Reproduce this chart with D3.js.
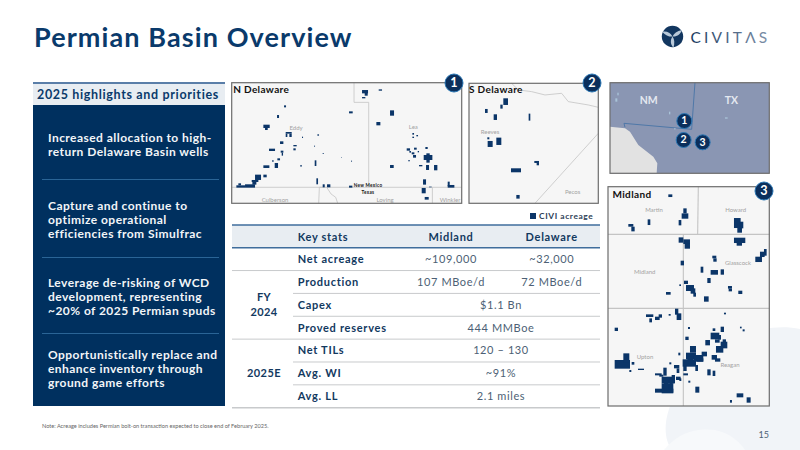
<!DOCTYPE html>
<html>
<head>
<meta charset="utf-8">
<script src="https://cdn.jsdelivr.net/npm/d3@7"></script>
<style>
  html, body { margin: 0; padding: 0; background: #fff; }
  svg { display: block; }
  text { font-family: Lato, "Open Sans", sans-serif; }
</style>
</head>
<body>
<svg id="slide" width="800" height="450"></svg>
<script>
// Left panel
const panelTitle = "2025 highlights and priorities";
const highlights = [
    ["Increased allocation to high-", "return Delaware Basin wells"],
    ["Capture and continue to", "optimize operational", "efficiencies from Simulfrac"],
    ["Leverage de-risking of WCD", "development, representing", "~20% of 2025 Permian spuds"],
    ["Opportunistically replace and", "enhance inventory through", "ground game efforts"]
];

// Table
const tableHead = ["Key stats", "Midland", "Delaware"];
const rowLabels = ["Net acreage", "Production", "Capex", "Proved reserves", "Net TILs", "Avg. WI", "Avg. LL"];
const midlandValues = ["~109,000", "107 MBoe/d", "$1.1 Bn", "444 MMBoe", "120 \u2013 130", "~91%", "2.1 miles"];
const delawareValues = ["~32,000", "72 MBoe/d", null, null, null, null, null];
const rowGroups = [
    { lines: ["FY", "2024"], from: 1, to: 3 },
    { lines: ["2025E"], from: 4, to: 6 }
];

// Acreage blocks: [x, y, w, h] in map units
const nDelawareBlocks = [
    [411,60,18,10],[419,68,9,9],[411,81,10,4],[461,58,10,4],[495,121,12,16],[372,124,11,6],[454,156,12,10],
    [177,106,6,6],[156,135,6,9],[115,164,19,10],[120,172,8,8],[182,186,18,5],[182,191,5,10],[193,191,7,10],
    [165,214,10,8],[205,225,10,4],[205,235,7,6],[132,236,18,7],[167,242,8,6],[170,248,4,9],[277,193,5,4],
    [231,200,3,4],[267,227,3,3],[293,249,3,3],[348,261,2,2],[378,272,3,3],[269,271,5,17],[226,285,4,5],
    [157,265,8,6],[141,271,5,4],[149,279,10,15],[115,286,18,8],[115,314,10,8],[90,314,18,16],[80,330,20,6],
    [82,336,12,8],[60,343,30,10],[40,340,8,6],[34,346,26,7],[274,325,5,18],[293,343,6,9],[306,343,10,9],
    [372,347,10,6],[495,285,11,9],[562,189,5,5],[574,195,5,4],[562,200,5,4],[545,235,10,7],[553,243,5,5],
    [560,247,8,6],[567,233,8,6],[564,255,9,8],[578,243,4,4],[550,270,4,4],[601,231,7,6],[596,255,26,15],
    [604,250,10,28],[582,285,10,4],[603,285,9,15],[627,285,10,16],[594,328,9,16],[590,354,12,16],[599,381,12,8],
    [668,335,6,14],[668,345,20,8],[612,350,8,2]
];
const sDelawareBlocks = [
    [835,85,14,20],[826,104,7,12],[780,117,8,12],[806,133,10,17],[911,131,5,21],[787,202,6,6],[788,213,15,18],
    [814,203,15,22],[928,273,14,6],[935,278,7,8],[858,295,30,12],[874,375,10,11]
];
const midlandBlocks = [
    [205,43,12,8],[250,85,10,15],[245,100,20,16],[236,120,8,16],[143,118,8,17],[85,132,15,8],[94,140,10,14],
    [402,114,20,30],[412,130,14,28],[420,125,10,20],[402,173,34,16],[410,185,16,12],[236,172,14,16],[250,178,20,14],
    [254,190,16,16],[242,242,10,14],[466,230,20,16],[480,215,14,16],[492,207,8,20],[337,227,12,8],[340,235,10,10],
    [302,260,8,18],[332,270,22,14],[362,268,10,16],[322,294,10,15],[252,302,12,10],[238,313,5,5],[258,315,24,18],
    [272,325,14,16],[280,338,8,12],[198,336,14,8],[384,318,12,8],[386,326,10,8],[415,332,12,10],[312,349,14,16],
    [225,386,10,18],[230,400,14,20],[138,403,22,8],[148,415,8,12],[165,410,14,10],[176,403,10,10],[206,402,6,5],
    [372,398,6,5],[44,443,10,10],[264,441,6,6],[420,440,5,5],[428,448,6,6],[362,440,10,16],[338,445,8,8],
    [332,458,26,20],[345,478,14,10],[316,480,14,16],[256,470,10,10],[362,485,20,20],[348,498,22,20],[335,525,16,14],
    [345,535,16,10],[235,518,6,8],[270,498,18,20],[258,518,30,20],[248,538,40,22],[282,525,28,20],[305,515,16,14],
    [286,555,8,18],[222,555,16,10],[230,565,8,14],[250,555,10,18],[250,580,14,6],[208,547,6,6],[44,540,46,26],
    [70,520,18,26],[95,546,8,8],[88,570,6,6],[114,566,18,4],[322,568,10,18],[338,572,8,16],[190,563,10,24],
    [165,580,20,6],[185,590,38,20],[215,585,10,25],[228,590,14,10],[165,626,55,12],[185,610,35,30],[265,602,6,6],
    [286,620,12,18],[390,660,6,8],[410,640,20,12],[440,652,12,16],
    [262,530,18,12],[290,535,20,10],[192,600,14,30],[208,596,10,34],[178,584,12,6],[238,595,6,8],[355,465,8,14],[368,478,10,10]
];
const locatorMarks = [[46,295,6,10],[52,278,4,8],[207,335,4,8],[375,352,8,4],[222,385,5,3]];

// County and state lines, map units
const nDelawareLines = [
    [[20,352],[710,352]],
    [[387,38],[387,97],[431,97],[431,352]],
    [[622,352],[622,400]],
    [[283,352],[281,400]],
    [[283,352],[305,352],[318,372],[332,382],[338,400]]
];
const sDelawareLines = [
    [[930,400],[1120,190]],
    [[860,40],[880,60],[920,65],[960,75],[1010,70],[1030,95],[1090,105],[1120,112]]
];
const midlandLines = [
    [[295,20],[293,163]],
    [[24,163],[508,163]],
    [[250,163],[250,678]],
    [[24,385],[508,385]]
];
const locatorLines = [
    [[285,248],[275,388],[72,370],[75,382]]
];
const mexicoShape = [[30,380],[75,385],[90,395],[115,435],[160,470],[172,490],[170,520],[30,520]];

// Map labels
const nDelawareLabels = [
    ["Eddy",213,175],["Lea",565,172],["Culberson",150,390],["Loving",480,390],["Winkler",675,390]
];
const sDelawareLabels = [["Reeves",795,187],["Pecos",1043,366]];
const midlandLabels = [
    ["Martin",162,90],["Howard",407,90],["Midland",134,275],["Glasscock",414,250],["Upton",135,532],["Reagan",390,555]
];
const stateLabels = [["NM",146,305],["TX",394,305]];
const locatorBadges = [["1",253,363],["2",251,420],["3",308,427]];

const navy = "#00305f";
const titleBlue = "#0a3a6b";
const svg = d3.select("#slide");

// faint background shapes, bottom right
svg.append("path")
    .attr("d", "M800,329 C760,320 700,345 675,395 C662,420 664,440 672,450 L800,450 Z")
    .attr("fill", "#f1f4f8");
svg.append("path")
    .attr("d", "M664,450 C680,430 700,428 715,430 C730,433 740,442 745,450 Z")
    .attr("fill", "#f7f9fb");

svg.append("text").text("Permian Basin Overview")
    .attr("x", 34).attr("y", 47)
    .attr("font-size", 27).attr("font-weight", 700).attr("letter-spacing", 1.1)
    .attr("fill", titleBlue);

drawLogo();
drawHighlights();
drawMaps();
drawTable();

svg.append("text")
    .text("Note:  Acreage includes Permian bolt-on transaction expected to close end of February 2025.")
    .attr("x", 42).attr("y", 428)
    .attr("font-size", 5.6).attr("fill", "#666");
svg.append("text").text("15")
    .attr("x", 769).attr("y", 438).attr("text-anchor", "end")
    .attr("font-size", 9).attr("fill", "#4d5f75");

function drawLogo() {
    const g = svg.append("g").attr("transform", "translate(672.5,36.5)");
    g.append("circle").attr("r", 10.7).attr("fill", "#12365f");
    g.selectAll("path").data([0, 120, 240]).join("path")
        .attr("d", "M0,0 C-1,-3 0,-7 3,-11 C4.5,-7 4,-3 0,0 Z")
        .attr("transform", d => "rotate(" + (d + 40) + ")")
        .attr("fill", "#b9c9d9");
    const grad = svg.append("defs").append("linearGradient").attr("id", "logoFade");
    grad.append("stop").attr("offset", "0%").attr("stop-color", "#1d3a5f");
    grad.append("stop").attr("offset", "100%").attr("stop-color", "#7f93ab");
    svg.append("text").text("CIVIT\u039bS")
        .attr("x", 690.5).attr("y", 42.5)
        .attr("font-size", 15.5).attr("letter-spacing", 3.2)
        .attr("fill", "url(#logoFade)");
}

function drawHighlights() {
    svg.append("rect").attr("x", 33).attr("y", 83).attr("width", 192).attr("height", 323).attr("fill", navy);
    svg.append("rect").attr("x", 33).attr("y", 83).attr("width", 192).attr("height", 22).attr("fill", "#e8edf2");
    svg.append("rect").attr("x", 33).attr("y", 82).attr("width", 192).attr("height", 2).attr("fill", "#5a7ea8");
    svg.append("text").text(panelTitle)
        .attr("x", 128).attr("y", 99).attr("text-anchor", "middle")
        .attr("font-size", 12.5).attr("font-weight", 700).attr("letter-spacing", 0.65)
        .attr("fill", titleBlue);

    const firstLine = [138, 206, 282.7, 354.7];
    const blocks = svg.append("g").selectAll("text").data(highlights).join("text")
        .attr("font-size", 12).attr("font-weight", 700).attr("letter-spacing", 0.45)
        .attr("fill", "#f2f5f8");
    blocks.each(function (lines, i) {
        d3.select(this).selectAll("tspan").data(lines).join("tspan")
            .attr("x", 48)
            .attr("y", (d, j) => firstLine[i] + 4 + j * 14.2)
            .text(d => d);
    });
    svg.append("g").selectAll("line").data([179.5, 257.5, 333.5]).join("line")
        .attr("x1", 42).attr("x2", 219).attr("y1", d => d).attr("y2", d => d)
        .attr("stroke", "#2a6496").attr("stroke-width", 1);
}

// one map panel; data is in map units, box is where it lands on the slide
function drawMap(cfg) {
    const x = d3.scaleLinear().domain(cfg.domainX).range([cfg.box[0], cfg.box[2]]);
    const y = d3.scaleLinear().domain(cfg.domainY).range([cfg.box[1], cfg.box[3]]);
    const line = d3.line().x(d => x(d[0])).y(d => y(d[1]));
    const g = svg.append("g");

    g.append("rect")
        .attr("x", x.range()[0]).attr("y", y.range()[0])
        .attr("width", x.range()[1] - x.range()[0]).attr("height", y.range()[1] - y.range()[0])
        .attr("fill", cfg.fill || "#f6f6f6");

    if (cfg.shape) {
        g.append("path").attr("d", line(cfg.shape) + "Z").attr("fill", "#e2e2e2");
    }
    g.selectAll(".boundary").data(cfg.lines).join("path")
        .attr("class", "boundary")
        .attr("d", line).attr("fill", "none")
        .attr("stroke", cfg.lineColor || "#c4c4c4").attr("stroke-width", cfg.lineWidth || 0.8);
    g.selectAll(".block").data(cfg.blocks || []).join("rect")
        .attr("class", "block")
        .attr("x", d => x(d[0])).attr("y", d => y(d[1]))
        .attr("width", d => x(d[0] + d[2]) - x(d[0])).attr("height", d => y(d[1] + d[3]) - y(d[1]))
        .attr("fill", cfg.blockColor || "#0b3568");
    g.selectAll(".county").data(cfg.labels).join("text")
        .attr("class", "county")
        .attr("x", d => x(d[1])).attr("y", d => y(d[2]) + 2)
        .attr("text-anchor", "middle")
        .attr("font-size", cfg.labelSize || 6).attr("font-weight", cfg.labelWeight || 400)
        .attr("fill", cfg.labelColor || "#a3a3a3")
        .text(d => d[0]);

    g.append("rect")
        .attr("x", x.range()[0]).attr("y", y.range()[0])
        .attr("width", x.range()[1] - x.range()[0]).attr("height", y.range()[1] - y.range()[0])
        .attr("fill", "none").attr("stroke", "#6d6d6d").attr("stroke-width", 1.2);

    if (cfg.title) {
        g.append("text").text(cfg.title)
            .attr("x", x.range()[0] + cfg.titleDx).attr("y", y.range()[0] + cfg.titleDy)
            .attr("font-size", 10).attr("font-weight", 700).attr("letter-spacing", 0.35).attr("fill", "#111");
    }
    return { x: x, y: y };
}

function badge(cx, cy, label, r) {
    const g = svg.append("g").attr("transform", "translate(" + cx + "," + cy + ")");
    g.append("circle").attr("r", r).attr("fill", "#0b2f5c").attr("stroke", "#2c78b5").attr("stroke-width", 1);
    g.append("text").text(label)
        .attr("y", r * 0.44).attr("text-anchor", "middle")
        .attr("font-size", r * 1.4).attr("font-weight", 700).attr("fill", "#fff");
}

function drawMaps() {
    drawMap({
        box: [231.7, 82.7, 461.7, 203.3], domainX: [20, 710], domainY: [38, 400],
        blocks: nDelawareBlocks, lines: nDelawareLines, labels: nDelawareLabels,
        title: "N Delaware", titleDx: 1.5, titleDy: 10
    });
    const border = svg.append("g").attr("font-size", 4.6).attr("font-weight", 700).attr("letter-spacing", 0.3)
        .attr("fill", "#111").attr("text-anchor", "middle");
    border.append("text").text("New Mexico").attr("x", 368).attr("y", 186.5);
    border.append("text").text("Texas").attr("x", 368).attr("y", 193.5);

    drawMap({
        box: [469, 83.3, 598.3, 203.3], domainX: [732, 1120], domainY: [40, 400],
        blocks: sDelawareBlocks, lines: sDelawareLines, labels: sDelawareLabels,
        title: "S Delaware", titleDx: 0, titleDy: 10
    });

    const loc = drawMap({
        box: [610, 82.7, 769.3, 173.3], domainX: [30, 508], domainY: [248, 520],
        fill: "#8a96b3", shape: mexicoShape, lines: locatorLines, lineColor: "#4f78a8", lineWidth: 1,
        blocks: locatorMarks, blockColor: "#a9c3d8",
        labels: stateLabels, labelSize: 10.5, labelWeight: 700, labelColor: "#e4e8f0"
    });
    locatorBadges.forEach(d => badge(loc.x(d[1]), loc.y(d[2]), d[0], 7.5));

    drawMap({
        box: [608, 186.7, 769.3, 406], domainX: [24, 508], domainY: [20, 678],
        blocks: midlandBlocks, lines: midlandLines, labels: midlandLabels, lineWidth: 1.1,
        title: "Midland", titleDx: 4.5, titleDy: 11.5
    });

    badge(454, 83, "1", 9);
    badge(592, 83, "2", 9);
    badge(764, 191, "3", 9);

    svg.append("rect").attr("x", 530).attr("y", 213).attr("width", 6).attr("height", 6).attr("fill", "#0b3568");
    svg.append("text").text("CIVI acreage")
        .attr("x", 539).attr("y", 219.3)
        .attr("font-size", 8.4).attr("font-weight", 700).attr("letter-spacing", 0.6).attr("fill", "#2b3d55");
}

function drawTable() {
    const left = 232, right = 600;
    const headTop = 225, headBottom = 247.7, tableBottom = 407.7;
    const rowY = d3.scaleBand().domain(rowLabels).range([headBottom, tableBottom]);
    const textBlue = "#12395f", valueGrey = "#4d5f75";

    svg.append("rect").attr("x", left).attr("y", headTop).attr("width", right - left).attr("height", headBottom - headTop).attr("fill", "#e8edf2");
    [headTop, headBottom].forEach(y => {
        svg.append("line").attr("x1", left).attr("x2", right).attr("y1", y).attr("y2", y)
            .attr("stroke", "#3f6d9c").attr("stroke-width", 1.5);
    });

    const colX = [297.7, 451, 551.7];
    svg.append("g").selectAll("text").data(tableHead).join("text")
        .attr("x", (d, i) => colX[i]).attr("y", 240.5)
        .attr("text-anchor", (d, i) => i ? "middle" : "start")
        .attr("font-size", 11).attr("font-weight", 700).attr("letter-spacing", 0.7).attr("fill", textBlue)
        .text(d => d);

    // separators: full width between groups, from the stats column inside a group
    const fullRules = [0, 3, 6];
    svg.append("g").selectAll("line").data(rowLabels).join("line")
        .attr("x1", (d, i) => fullRules.includes(i) ? left : 293)
        .attr("x2", right)
        .attr("y1", d => rowY(d) + rowY.bandwidth())
        .attr("y2", d => rowY(d) + rowY.bandwidth())
        .attr("stroke", "#c8cacc")
        .attr("stroke-width", (d, i) => i === 6 ? 1.5 : 1);

    const center = d => rowY(d) + rowY.bandwidth() / 2 + 3.8;
    svg.append("g").selectAll("text").data(rowLabels).join("text")
        .attr("x", colX[0]).attr("y", center)
        .attr("font-size", 11).attr("font-weight", 700).attr("letter-spacing", 0.72).attr("fill", textBlue)
        .text(d => d);

    // a missing Delaware value means the Midland one spans both columns
    svg.append("g").selectAll("text").data(rowLabels).join("text")
        .attr("x", (d, i) => delawareValues[i] === null ? 501 : colX[1])
        .attr("y", center).attr("text-anchor", "middle")
        .attr("font-size", 11).attr("letter-spacing", 0.6).attr("fill", valueGrey)
        .text((d, i) => midlandValues[i]);
    svg.append("g").selectAll("text").data(rowLabels.filter((d, i) => delawareValues[i] !== null)).join("text")
        .attr("x", colX[2]).attr("y", center).attr("text-anchor", "middle")
        .attr("font-size", 11).attr("letter-spacing", 0.6).attr("fill", valueGrey)
        .text((d, i) => delawareValues[i]);

    rowGroups.forEach(grp => {
        const mid = (rowY(rowLabels[grp.from]) + rowY(rowLabels[grp.to]) + rowY.bandwidth()) / 2;
        const top = mid - (grp.lines.length - 1) * 7.5 + 3.8;
        svg.append("g").selectAll("text").data(grp.lines).join("text")
            .attr("x", 264).attr("y", (d, i) => top + i * 15)
            .attr("text-anchor", "middle")
            .attr("font-size", 11).attr("font-weight", 700).attr("letter-spacing", 0.4).attr("fill", textBlue)
            .text(d => d);
    });
}
</script>
</body>
</html>
